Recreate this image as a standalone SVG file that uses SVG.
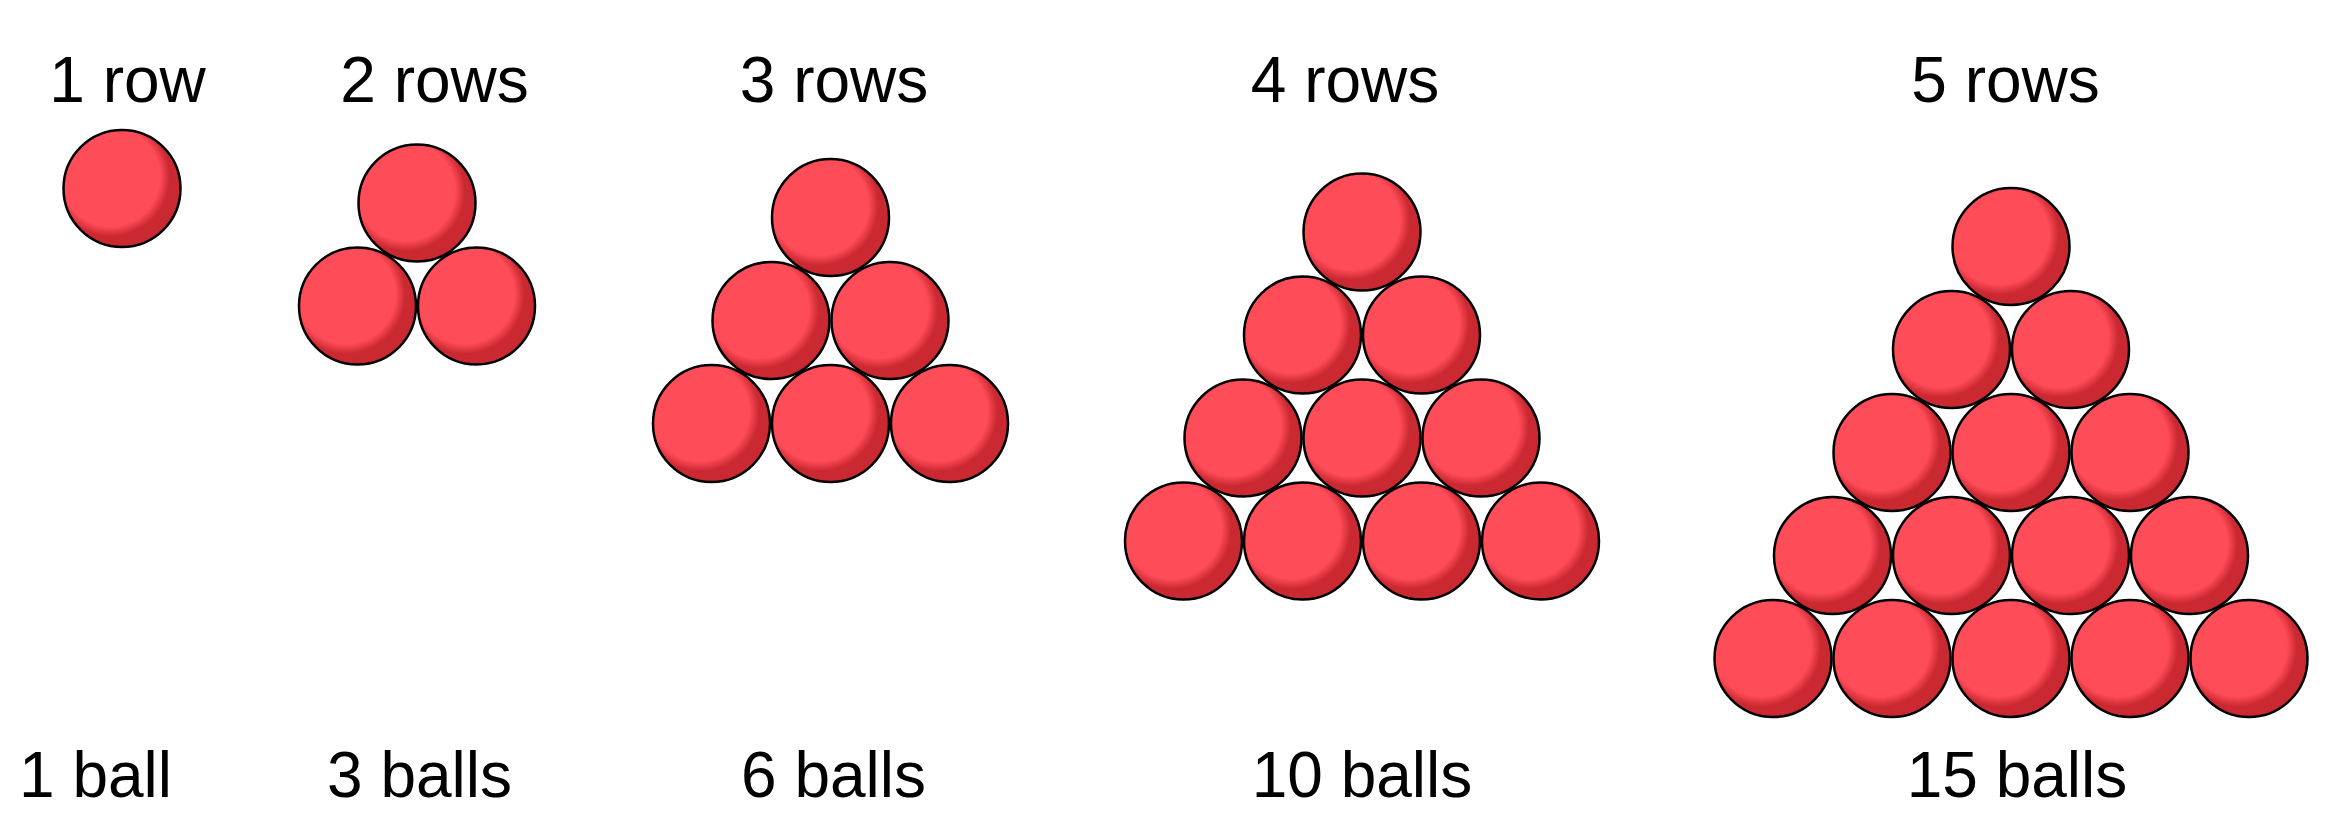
<svg xmlns="http://www.w3.org/2000/svg" xmlns:xlink="http://www.w3.org/1999/xlink" width="2329" height="837" viewBox="0 0 2329 837">
<defs>
<radialGradient id="shade" cx="0.4" cy="0.4" r="0.53">
<stop offset="0" stop-color="#FF4C59"/>
<stop offset="0.8" stop-color="#FF4C59"/>
<stop offset="0.96" stop-color="#CB2932"/>
<stop offset="1" stop-color="#CB2932"/>
</radialGradient>
<circle id="ball" cx="0" cy="0" r="58.5" fill="url(#shade)" stroke="#000" stroke-width="2.5"/>
</defs>
<style>
text{font-family:"Liberation Sans",Arial,sans-serif;font-size:64px;fill:#000;text-anchor:middle}
</style>
<rect width="2329" height="837" fill="#fff"/>
<g id="labels-top">
<text x="127.5" y="101.5">1 row</text>
<text x="434.5" y="101.5">2 rows</text>
<text x="834" y="101.5">3 rows</text>
<text x="1345" y="101.5">4 rows</text>
<text x="2005.5" y="101.5">5 rows</text>
</g>
<g id="labels-bottom">
<text x="95.5" y="796.5">1 ball</text>
<text x="419.5" y="796.5">3 balls</text>
<text x="833.5" y="796.5">6 balls</text>
<text x="1362" y="796.5">10 balls</text>
<text x="2017" y="796.5">15 balls</text>
</g>
<g id="connectors"></g>
<g id="group1">
<use xlink:href="#ball" x="122" y="188.5"/>
</g>
<g id="group2">
<use xlink:href="#ball" x="417" y="203"/>
<use xlink:href="#ball" x="357.5" y="306"/>
<use xlink:href="#ball" x="476.5" y="306"/>
</g>
<g id="group3">
<use xlink:href="#ball" x="830.5" y="217.5"/>
<use xlink:href="#ball" x="771" y="320.5"/>
<use xlink:href="#ball" x="890" y="320.5"/>
<use xlink:href="#ball" x="711.5" y="423.5"/>
<use xlink:href="#ball" x="830.5" y="423.5"/>
<use xlink:href="#ball" x="949.5" y="423.5"/>
</g>
<g id="group4">
<use xlink:href="#ball" x="1362" y="232"/>
<use xlink:href="#ball" x="1302.5" y="335"/>
<use xlink:href="#ball" x="1421.5" y="335"/>
<use xlink:href="#ball" x="1243" y="438"/>
<use xlink:href="#ball" x="1362" y="438"/>
<use xlink:href="#ball" x="1481" y="438"/>
<use xlink:href="#ball" x="1183.5" y="541"/>
<use xlink:href="#ball" x="1302.5" y="541"/>
<use xlink:href="#ball" x="1421.5" y="541"/>
<use xlink:href="#ball" x="1540.5" y="541"/>
</g>
<g id="group5">
<use xlink:href="#ball" x="2011" y="246.5"/>
<use xlink:href="#ball" x="1951.5" y="349.5"/>
<use xlink:href="#ball" x="2070.5" y="349.5"/>
<use xlink:href="#ball" x="1892" y="452.5"/>
<use xlink:href="#ball" x="2011" y="452.5"/>
<use xlink:href="#ball" x="2130" y="452.5"/>
<use xlink:href="#ball" x="1832.5" y="555.5"/>
<use xlink:href="#ball" x="1951.5" y="555.5"/>
<use xlink:href="#ball" x="2070.5" y="555.5"/>
<use xlink:href="#ball" x="2189.5" y="555.5"/>
<use xlink:href="#ball" x="1773" y="658.5"/>
<use xlink:href="#ball" x="1892" y="658.5"/>
<use xlink:href="#ball" x="2011" y="658.5"/>
<use xlink:href="#ball" x="2130" y="658.5"/>
<use xlink:href="#ball" x="2249" y="658.5"/>
</g>
</svg>
